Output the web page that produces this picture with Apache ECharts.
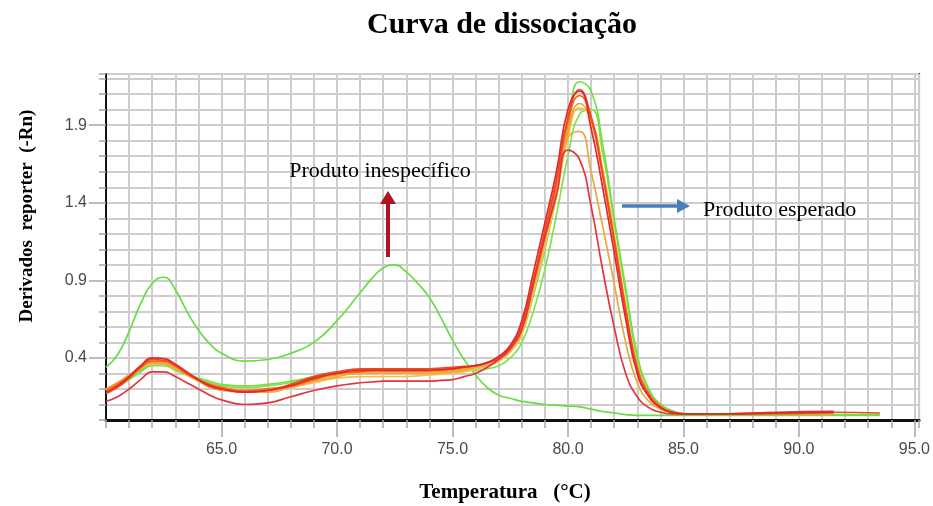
<!DOCTYPE html>
<html>
<head>
<meta charset="utf-8">
<script src="https://cdn.jsdelivr.net/npm/echarts@6/dist/echarts.min.js"></script>
<style>
  html, body { margin: 0; padding: 0; background: #fff; }
  #chart { width: 933px; height: 506px; }
</style>
</head>
<body>
<div id="chart"></div>
<script>
// Temperature samples (°C) shared by every melt curve
const temps = [60, 60.5, 61, 61.5, 62, 62.5, 63, 63.5, 64, 64.5, 65, 66, 67, 68, 69, 70, 71,
  71.5, 72, 72.5, 73, 73.5, 74, 74.5, 75, 75.5, 76,
  76.5, 77, 77.5, 78, 78.5, 79, 79.5, 80, 80.5, 81, 81.5, 82, 82.5, 83, 83.5, 84, 84.5, 85,
  87, 89, 91.5, 93.5];

// Derivative reporter (-Rn) per well
const wellRedA = [0.18, 0.22, 0.28, 0.35, 0.40, 0.395, 0.36, 0.31, 0.26, 0.22, 0.20, 0.18, 0.19, 0.22, 0.27, 0.30, 0.32,
  0.32, 0.32, 0.32, 0.32, 0.32, 0.32, 0.325, 0.33, 0.34, 0.35,
  0.37, 0.41, 0.48, 0.64, 0.95, 1.27, 1.60, 2.00, 2.12, 1.88, 1.50, 1.08, 0.65, 0.30, 0.15, 0.08, 0.05, 0.04,
  0.04, 0.045, 0.05, null];
const wellRedB = [0.17, 0.21, 0.27, 0.34, 0.39, 0.385, 0.35, 0.30, 0.26, 0.22, 0.20, 0.18, 0.19, 0.23, 0.28, 0.31, 0.33,
  0.33, 0.33, 0.33, 0.33, 0.33, 0.33, 0.335, 0.34, 0.345, 0.35,
  0.37, 0.40, 0.47, 0.62, 0.90, 1.22, 1.55, 1.95, 2.13, 1.95, 1.58, 1.15, 0.70, 0.33, 0.16, 0.08, 0.05, 0.04,
  0.04, 0.045, 0.05, 0.045];
const wellOrangeC = [0.19, 0.23, 0.28, 0.34, 0.38, 0.38, 0.35, 0.30, 0.26, 0.23, 0.21, 0.19, 0.20, 0.22, 0.26, 0.30, 0.31,
  0.32, 0.32, 0.32, 0.32, 0.32, 0.32, 0.325, 0.33, 0.34, 0.35,
  0.37, 0.40, 0.46, 0.60, 0.88, 1.20, 1.52, 1.92, 2.09, 1.96, 1.60, 1.17, 0.72, 0.34, 0.17, 0.09, 0.05, 0.04,
  0.04, 0.04, 0.045, null];
const wellOrangeD = [0.20, 0.24, 0.29, 0.34, 0.37, 0.37, 0.34, 0.30, 0.26, 0.23, 0.21, 0.19, 0.20, 0.22, 0.26, 0.29, 0.30,
  0.31, 0.31, 0.31, 0.31, 0.31, 0.31, 0.315, 0.32, 0.33, 0.34,
  0.36, 0.39, 0.45, 0.58, 0.85, 1.16, 1.48, 1.86, 2.04, 1.93, 1.58, 1.15, 0.70, 0.33, 0.16, 0.08, 0.05, 0.04,
  0.04, 0.04, 0.04, null];
const wellYellowE = [0.20, 0.24, 0.28, 0.33, 0.36, 0.36, 0.33, 0.29, 0.25, 0.22, 0.20, 0.19, 0.19, 0.21, 0.24, 0.27, 0.28,
  0.28, 0.28, 0.28, 0.28, 0.285, 0.29, 0.295, 0.30, 0.31, 0.33,
  0.35, 0.38, 0.44, 0.55, 0.82, 1.12, 1.44, 1.82, 2.01, 1.95, 1.62, 1.20, 0.74, 0.36, 0.17, 0.09, 0.05, 0.04,
  0.04, 0.04, 0.04, null];
const wellOrangeF = [0.18, 0.22, 0.27, 0.33, 0.37, 0.365, 0.33, 0.29, 0.25, 0.21, 0.19, 0.18, 0.18, 0.21, 0.25, 0.28, 0.30,
  0.30, 0.30, 0.30, 0.30, 0.30, 0.30, 0.305, 0.31, 0.32, 0.34,
  0.36, 0.40, 0.47, 0.60, 0.90, 1.20, 1.50, 1.82, 1.86, 1.60, 1.25, 0.88, 0.50, 0.24, 0.12, 0.07, 0.05, 0.04,
  0.04, 0.04, 0.04, null];
const wellRedG = [0.12, 0.15, 0.20, 0.26, 0.31, 0.31, 0.28, 0.24, 0.20, 0.16, 0.13, 0.10, 0.11, 0.15, 0.19, 0.22, 0.24,
  0.245, 0.25, 0.25, 0.25, 0.25, 0.25, 0.255, 0.26, 0.28, 0.30,
  0.34, 0.39, 0.46, 0.58, 0.88, 1.18, 1.45, 1.74, 1.68, 1.38, 0.97, 0.60, 0.30, 0.15, 0.08, 0.05, 0.04, 0.04,
  0.04, 0.05, 0.055, null];
const wellGreenH = [0.20, 0.23, 0.27, 0.32, 0.36, 0.36, 0.33, 0.30, 0.27, 0.25, 0.23, 0.22, 0.23, 0.25, 0.28, 0.31, 0.32,
  0.325, 0.33, 0.33, 0.33, 0.33, 0.33, 0.33, 0.33, 0.33, 0.33,
  0.35, 0.38, 0.44, 0.56, 0.80, 1.10, 1.45, 1.88, 2.18, 2.12, 1.78, 1.30, 0.85, 0.42, 0.20, 0.10, 0.06, 0.04,
  0.035, 0.035, 0.035, 0.035];
const wellGreenI = [0.19, 0.22, 0.26, 0.31, 0.35, 0.35, 0.32, 0.29, 0.26, 0.24, 0.22, 0.21, 0.22, 0.24, 0.27, 0.30, 0.31,
  0.315, 0.32, 0.32, 0.32, 0.32, 0.32, 0.32, 0.32, 0.32, 0.32,
  0.33, 0.35, 0.40, 0.50, 0.70, 0.97, 1.32, 1.70, 1.97, 2.00, 1.72, 1.28, 0.82, 0.40, 0.19, 0.10, 0.06, 0.04,
  0.035, 0.035, 0.035, null];
const wellGreenNonspecific = [0.34, 0.42, 0.57, 0.75, 0.88, 0.92, 0.84, 0.70, 0.58, 0.49, 0.43, 0.38, 0.39, 0.43, 0.50, 0.64, 0.82,
  0.91, 0.98, 1.00, 0.955, 0.88, 0.79, 0.66, 0.515, 0.39, 0.29,
  0.21, 0.16, 0.14, 0.12, 0.11, 0.10, 0.095, 0.09, 0.085, 0.07, 0.055, 0.045, 0.035, 0.03, 0.03, 0.03, 0.03, 0.03,
  0.03, 0.03, 0.03, 0.03];

// Labelled tick positions
const xTickValues = [65, 70, 75, 80, 85, 90, 95];
const yTickValues = [0.4, 0.9, 1.4, 1.9];

const wells = [
  { name: 'Inespecífico', values: wellGreenNonspecific, color: '#66dd44' },
  { name: 'Verde I', values: wellGreenI, color: '#86e052' },
  { name: 'Verde H', values: wellGreenH, color: '#74df44' },
  { name: 'Amarelo E', values: wellYellowE, color: '#f3c24c' },
  { name: 'Laranja D', values: wellOrangeD, color: '#f4a02a' },
  { name: 'Laranja F', values: wellOrangeF, color: '#efa63e' },
  { name: 'Laranja C', values: wellOrangeC, color: '#f06a22' },
  { name: 'Vermelho B', values: wellRedB, color: '#ec4a1f' },
  { name: 'Vermelho G', values: wellRedG, color: '#e2353d' },
  { name: 'Vermelho A', values: wellRedA, color: '#e5262a' }
];

const serif = '"Liberation Serif", "Times New Roman", serif';
const sans = '"Liberation Sans", Arial, sans-serif';

const chart = echarts.init(document.getElementById('chart'), null, { renderer: 'canvas' });

const gridLine = { show: true, lineStyle: { color: '#cdcdcd', width: 2 } };

chart.setOption({
  animation: false,
  backgroundColor: '#ffffff',
  grid: {
    left: 106, right: 13, top: 74, bottom: 86,
    show: true, borderColor: '#2a2a2a', borderWidth: 2, backgroundColor: 'transparent'
  },
  xAxis: [
    {
      type: 'value', min: 60, max: 95.2, interval: 1,
      axisLine: { show: true, lineStyle: { color: '#111', width: 3 } },
      axisTick: { show: true, length: 8, lineStyle: { color: '#a8a8a8', width: 1.5 } },
      splitLine: gridLine,
      axisLabel: {
        customValues: xTickValues,
        formatter: v => v.toFixed(1),
        margin: 22, fontFamily: sans, fontSize: 16, color: '#4a4a4a'
      }
    },
    {
      type: 'value', min: 60, max: 95.2, position: 'bottom',
      axisLine: { show: false },
      axisTick: { show: true, customValues: xTickValues, length: 17, lineStyle: { color: '#a8a8a8', width: 1.5 } },
      splitLine: { show: false },
      axisLabel: { show: false }
    }
  ],
  yAxis: [
    {
      type: 'value', min: 0, max: 2.23, interval: 0.1,
      axisLine: { show: true, lineStyle: { color: '#111', width: 2 } },
      axisTick: { show: true, length: 7, lineStyle: { color: '#a8a8a8', width: 1.5 } },
      splitLine: gridLine,
      axisLabel: {
        customValues: yTickValues,
        formatter: v => v.toFixed(1),
        margin: 19, fontFamily: sans, fontSize: 16, color: '#4a4a4a'
      }
    },
    {
      type: 'value', min: 0, max: 2.23, position: 'left',
      axisLine: { show: false },
      axisTick: { show: true, customValues: yTickValues, length: 17, lineStyle: { color: '#a8a8a8', width: 1.5 } },
      splitLine: { show: false },
      axisLabel: { show: false }
    }
  ],
  series: wells.map(w => ({
    name: w.name,
    type: 'line',
    xAxisIndex: 0,
    yAxisIndex: 0,
    showSymbol: false,
    smooth: 0.5,
    silent: true,
    clip: true,
    lineStyle: { color: w.color, width: 1.7 },
    data: temps.map((t, i) => [t, w.values[i]]).filter(p => p[1] !== null)
  })),
  graphic: [
    // chart title
    {
      type: 'text', x: 502, y: 25, z: 100,
      style: { text: 'Curva de dissociação', font: 'bold 30px ' + serif, fill: '#000', align: 'center', verticalAlign: 'middle' }
    },
    // axis titles
    {
      type: 'text', x: 505, y: 493, z: 100,
      style: { text: 'Temperatura   (°C)', font: 'bold 21px ' + serif, fill: '#000', align: 'center', verticalAlign: 'middle' }
    },
    {
      type: 'text', x: 27, y: 216, rotation: Math.PI / 2, z: 100,
      style: { text: 'Derivados  reporter  (-Rn)', font: 'bold 19px ' + serif, fill: '#000', align: 'center', verticalAlign: 'middle' }
    },
    // annotation: non-specific product
    {
      type: 'text', x: 380, y: 171, z: 100,
      style: { text: 'Produto inespecífico', font: '22px ' + serif, fill: '#000', align: 'center', verticalAlign: 'middle' }
    },
    {
      type: 'line', z: 100, shape: { x1: 388, y1: 257, x2: 388, y2: 202 },
      style: { stroke: '#b0141e', lineWidth: 4 }
    },
    {
      type: 'polygon', z: 100, shape: { points: [[380, 204], [396, 204], [388, 191]] },
      style: { fill: '#b0141e' }
    },
    // annotation: expected product
    {
      type: 'text', x: 703, y: 210, z: 100,
      style: { text: 'Produto esperado', font: '22px ' + serif, fill: '#000', align: 'left', verticalAlign: 'middle' }
    },
    {
      type: 'line', z: 100, shape: { x1: 622, y1: 206, x2: 680, y2: 206 },
      style: { stroke: '#4a7ebb', lineWidth: 3.5 }
    },
    {
      type: 'polygon', z: 100, shape: { points: [[677, 199], [690, 206], [677, 213]] },
      style: { fill: '#4a7ebb' }
    }
  ]
});
</script>
</body>
</html>
